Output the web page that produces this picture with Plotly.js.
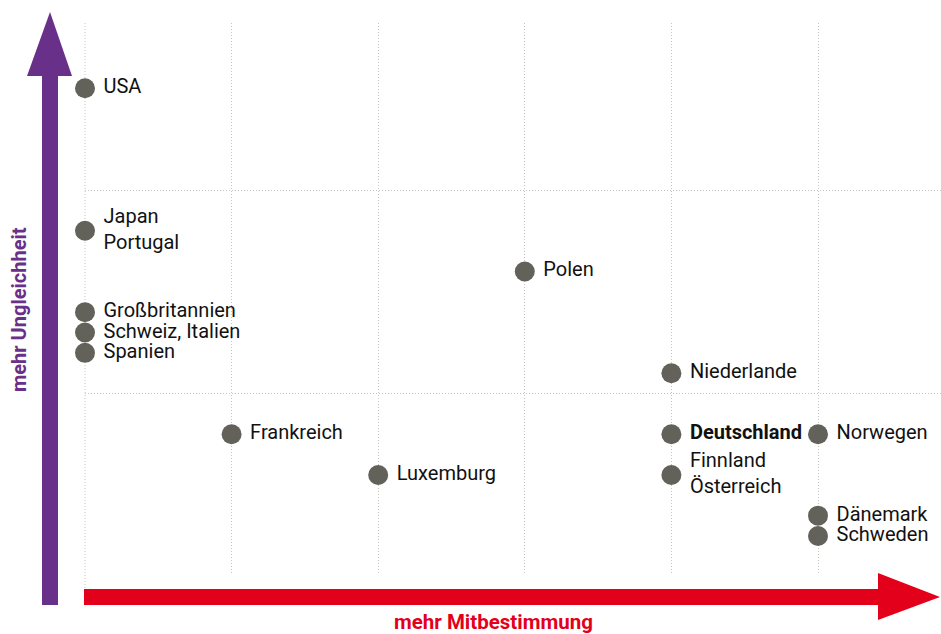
<!DOCTYPE html>
<html><head><meta charset="utf-8">
<script src="https://cdn.plot.ly/plotly-3.0.1.min.js"></script>
<style>html,body{margin:0;padding:0;background:#fff}#chart{width:941px;height:634px}</style>
</head><body><div id="chart"></div>
<script>
// Data: x = Mitbestimmung level, y = Ungleichheit level
const labels = ["USA","Japan<br>Portugal","Polen","Großbritannien","Schweiz, Italien","Spanien","Niederlande","Frankreich","<b>Deutschland</b>","Norwegen","Luxemburg","Finnland<br>Österreich","Dänemark","Schweden"];
const mitbestimmung = [0,0,3,0,0,0,4,1,4,5,2,4,5,5];
const ungleichheit = [22,15,13,11,10,9,8,5,5,5,3,3,1,0];
const xTitle = "mehr Mitbestimmung";
const yTitle = "mehr Ungleichheit";

const W=941,H=634,L=85,R=0,T=23,B=59;
const pw=W-L-R, ph=H-T-B;
const px=x=>(x-L)/pw, py=y=>(H-B-y)/ph;
function path(pts){return 'M'+pts.map(p=>px(p[0])+','+py(p[1])).join(' L')+' Z';}

const purple='#683088', red='#e3001b', font="Roboto,'Liberation Sans',sans-serif";
const gridc='#c4c4bf';

const dots={
  x:mitbestimmung, y:ungleichheit, type:'scatter', mode:'markers', cliponaxis:false,
  marker:{size:20,color:'#62625a'}, hoverinfo:'none'
};
const texts={
  x:mitbestimmung, y:ungleichheit, text:labels, type:'scatter', mode:'markers+text',
  textposition:'middle right', cliponaxis:false,
  marker:{size:28,color:'rgba(0,0,0,0)'},
  textfont:{family:font,size:20,color:'#111'}, hoverinfo:'none'
};
const layout={
  width:W,height:H,margin:{l:L,r:R,t:T,b:B},
  paper_bgcolor:'#fff',plot_bgcolor:'#fff',showlegend:false,
  xaxis:{range:[0,pw/146.6],tickvals:[0,1,2,3,4,5],showticklabels:false,showgrid:true,gridcolor:gridc,griddash:'1px,2px',gridwidth:1,zeroline:false,showline:false,fixedrange:true},
  yaxis:{range:[-(H-B-536)/20.35,(536-T)/20.35],tickvals:[7,17],showticklabels:false,showgrid:true,gridcolor:gridc,griddash:'1px,2px',gridwidth:1,zeroline:false,showline:false,fixedrange:true},
  shapes:[
    {type:'line',xref:'paper',yref:'paper',x0:0,x1:0,y0:1,y1:py(589),line:{color:gridc,width:1,dash:'1px,2px'},layer:'below'},
    {type:'path',xref:'paper',yref:'paper',path:path([[42,605],[42,76],[27,76],[50,12],[72,76],[58,76],[58,605]]),fillcolor:purple,line:{width:0}},
    {type:'path',xref:'paper',yref:'paper',path:path([[84,589],[878,589],[878,573],[940,597],[878,620],[878,605],[84,605]]),fillcolor:red,line:{width:0}}
  ],
  annotations:[
    {text:'<b>'+yTitle+'</b>',xref:'paper',yref:'paper',x:px(19),y:py(310),textangle:-90,showarrow:false,font:{family:font,size:20,color:purple},xanchor:'center',yanchor:'middle'},
    {text:'<b>'+xTitle+'</b>',xref:'paper',yref:'paper',x:px(493),y:py(622),showarrow:false,font:{family:font,size:20.5,color:red},xanchor:'center',yanchor:'middle'}
  ]
};
Plotly.newPlot('chart',[dots,texts],layout,{displayModeBar:false,staticPlot:true});
</script></body></html>
